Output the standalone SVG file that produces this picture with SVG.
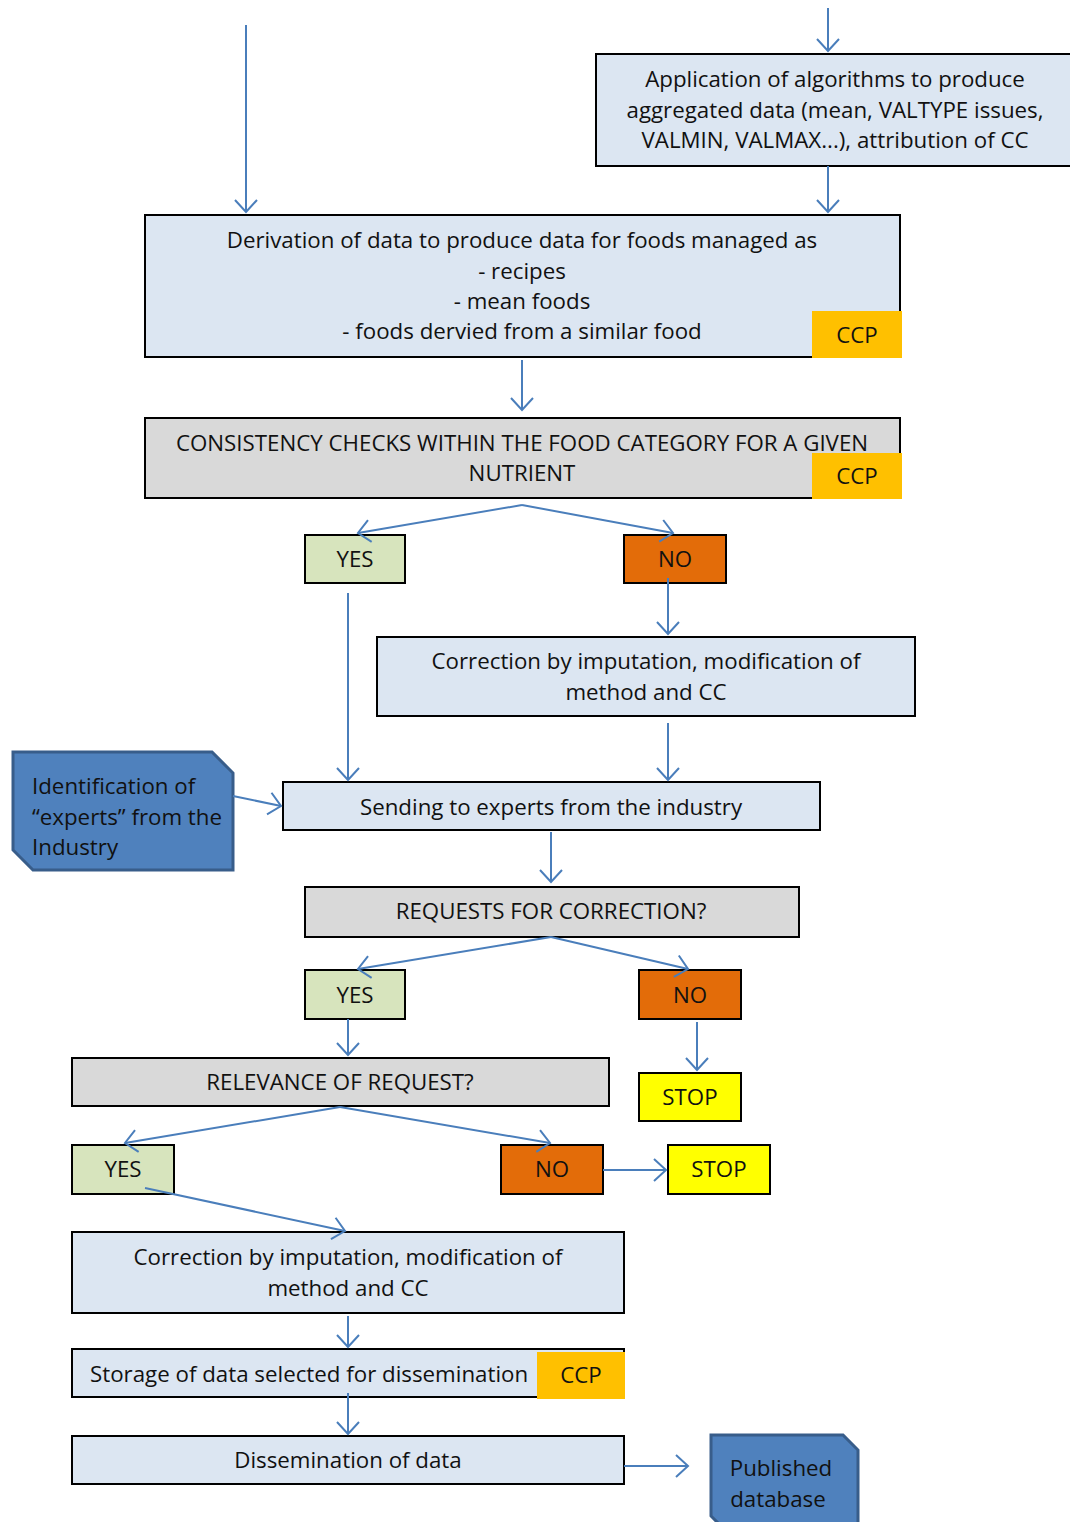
<svg xmlns="http://www.w3.org/2000/svg" width="1070" height="1522" viewBox="0 0 1070 1522">
  <style>
    .box { stroke: #000; stroke-width: 2; }
    .blue { fill: #dce6f2; }
    .gray { fill: #d9d9d9; }
    .yes { fill: #d7e4bd; }
    .no { fill: #e36c09; }
    .stop { fill: #ffff00; }
    .ccp { fill: #ffc000; }
    .tag { fill: #4f81bd; stroke: #385d8a; stroke-width: 3; }
    text { font-family: "Open Sans", "Liberation Sans", sans-serif; font-size: 22.3px; fill: #111; }
    .c { text-anchor: middle; }
    .conn { stroke: #4a7ebb; stroke-width: 2; fill: none; marker-end: url(#v); }
  </style>
  <defs>
    <marker id="v" markerUnits="userSpaceOnUse" markerWidth="30" markerHeight="30" refX="14" refY="12" orient="auto">
      <path d="M2,1 L14,12 L2,23" fill="none" stroke="#4a7ebb" stroke-width="2"/>
    </marker>
  </defs>

  <g id="algorithms">
    <rect class="box blue" x="596" y="54" width="480" height="112"/>
    <text class="c" x="835" y="87">Application of algorithms to produce</text>
    <text class="c" x="835" y="118">aggregated data (mean, VALTYPE issues,</text>
    <text class="c" x="835" y="148">VALMIN, VALMAX...), attribution of CC</text>
  </g>

  <g id="derivation">
    <rect class="box blue" x="145" y="215" width="755" height="142"/>
    <text class="c" x="522" y="248">Derivation of data to produce data for foods managed as</text>
    <text class="c" x="522" y="279">- recipes</text>
    <text class="c" x="522" y="309">- mean foods</text>
    <text class="c" x="522" y="339">- foods dervied from a similar food</text>
    <rect class="ccp" x="812" y="311" width="90" height="47"/>
    <text class="c" x="857" y="343">CCP</text>
  </g>

  <g id="consistency">
    <rect class="box gray" x="145" y="418" width="755" height="80"/>
    <text class="c" x="522" y="451">CONSISTENCY CHECKS WITHIN THE FOOD CATEGORY FOR A GIVEN</text>
    <text class="c" x="522" y="481">NUTRIENT</text>
    <rect class="ccp" x="812" y="453" width="90" height="46"/>
    <text class="c" x="857" y="484">CCP</text>
  </g>

  <g id="yes1">
    <rect class="box yes" x="305" y="535" width="100" height="48"/>
    <text class="c" x="355" y="567">YES</text>
  </g>
  <g id="no1">
    <rect class="box no" x="624" y="535" width="102" height="48"/>
    <text class="c" x="675" y="567">NO</text>
  </g>

  <g id="correction1">
    <rect class="box blue" x="377" y="637" width="538" height="79"/>
    <text class="c" x="646" y="669">Correction by imputation, modification of</text>
    <text class="c" x="646" y="700">method and CC</text>
  </g>

  <g id="identification">
    <path class="tag" d="M13,752 L212,752 L233,773 L233,870 L33,870 L13,850 Z"/>
    <text x="32" y="794">Identification of</text>
    <text x="32" y="825">“experts” from the</text>
    <text x="32" y="855">Industry</text>
  </g>

  <g id="sending">
    <rect class="box blue" x="283" y="782" width="537" height="48"/>
    <text class="c" x="551" y="815">Sending to experts from the industry</text>
  </g>

  <g id="requests">
    <rect class="box gray" x="305" y="887" width="494" height="50"/>
    <text class="c" x="551" y="919">REQUESTS FOR CORRECTION?</text>
  </g>

  <g id="yes2">
    <rect class="box yes" x="305" y="970" width="100" height="49"/>
    <text class="c" x="355" y="1003">YES</text>
  </g>
  <g id="no2">
    <rect class="box no" x="639" y="970" width="102" height="49"/>
    <text class="c" x="690" y="1003">NO</text>
  </g>

  <g id="relevance">
    <rect class="box gray" x="72" y="1058" width="537" height="48"/>
    <text class="c" x="340" y="1090">RELEVANCE OF REQUEST?</text>
  </g>

  <g id="stop1">
    <rect class="box stop" x="639" y="1073" width="102" height="48"/>
    <text class="c" x="690" y="1105">STOP</text>
  </g>

  <g id="yes3">
    <rect class="box yes" x="72" y="1145" width="102" height="49"/>
    <text class="c" x="123" y="1177">YES</text>
  </g>
  <g id="no3">
    <rect class="box no" x="501" y="1145" width="102" height="49"/>
    <text class="c" x="552" y="1177">NO</text>
  </g>
  <g id="stop2">
    <rect class="box stop" x="668" y="1145" width="102" height="49"/>
    <text class="c" x="719" y="1177">STOP</text>
  </g>

  <g id="correction2">
    <rect class="box blue" x="72" y="1232" width="552" height="81"/>
    <text class="c" x="348" y="1265">Correction by imputation, modification of</text>
    <text class="c" x="348" y="1296">method and CC</text>
  </g>

  <g id="storage">
    <rect class="box blue" x="72" y="1349" width="552" height="48"/>
    <text x="90" y="1382">Storage of data selected for dissemination</text>
    <rect class="ccp" x="537" y="1352" width="88" height="47"/>
    <text class="c" x="581" y="1383">CCP</text>
  </g>

  <g id="dissemination">
    <rect class="box blue" x="72" y="1436" width="552" height="48"/>
    <text class="c" x="348" y="1468">Dissemination of data</text>
  </g>

  <g id="published">
    <path class="tag" d="M711,1435 L843,1435 L858,1450 L858,1530 L725,1530 L711,1516 Z"/>
    <text class="c" x="781" y="1476">Published</text>
    <text class="c" x="778" y="1507">database</text>
  </g>

  <!-- connectors sit on top of the boxes, so lines leaving from inside a box stay visible -->
  <g id="connectors">
    <line class="conn" x1="246" y1="25" x2="246" y2="212"/>
    <line class="conn" x1="828" y1="8" x2="828" y2="51"/>
    <line class="conn" x1="828" y1="166" x2="828" y2="212"/>
    <line class="conn" x1="522" y1="360" x2="522" y2="410"/>
    <line class="conn" x1="522" y1="505" x2="358" y2="533"/>
    <line class="conn" x1="522" y1="505" x2="673" y2="533"/>
    <line class="conn" x1="348" y1="593" x2="348" y2="780"/>
    <line class="conn" x1="668" y1="578" x2="668" y2="634"/>
    <line class="conn" x1="668" y1="723" x2="668" y2="780"/>
    <line class="conn" x1="233" y1="796" x2="281" y2="806"/>
    <line class="conn" x1="551" y1="832" x2="551" y2="882"/>
    <line class="conn" x1="551" y1="937" x2="358" y2="969"/>
    <line class="conn" x1="551" y1="937" x2="688" y2="969"/>
    <line class="conn" x1="348" y1="1019" x2="348" y2="1055"/>
    <line class="conn" x1="697" y1="1022" x2="697" y2="1070"/>
    <line class="conn" x1="340" y1="1107" x2="125" y2="1143"/>
    <line class="conn" x1="340" y1="1107" x2="550" y2="1143"/>
    <line class="conn" x1="603" y1="1170" x2="666" y2="1170"/>
    <line class="conn" x1="145" y1="1188" x2="345" y2="1231"/>
    <line class="conn" x1="348" y1="1316" x2="348" y2="1347"/>
    <line class="conn" x1="348" y1="1393" x2="348" y2="1434"/>
    <line class="conn" x1="624" y1="1466" x2="688" y2="1466"/>
  </g>
</svg>
